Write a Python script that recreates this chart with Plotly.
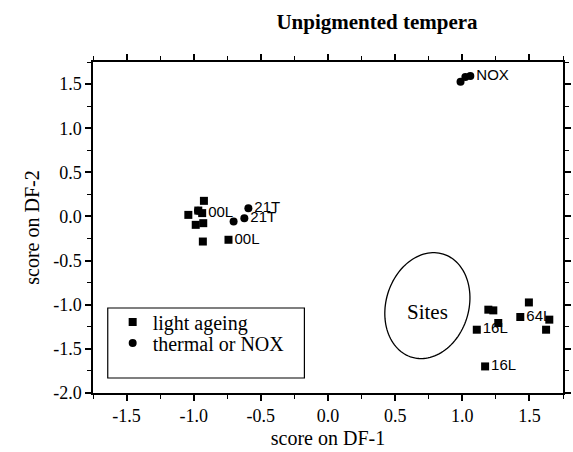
import numpy as np
import plotly.graph_objects as go

# Discriminant-function scores: light-aged samples (squares)
light_df1 = [-0.924, -1.040, -0.966, -0.937, -0.985, -0.929, -0.932, -0.741,
             1.194, 1.231, 1.268, 1.108, 1.170, 1.496, 1.432, 1.648, 1.624]
light_df2 = [0.177, 0.018, 0.067, 0.038, -0.095, -0.076, -0.284, -0.264,
             -1.056, -1.064, -1.207, -1.283, -1.699, -0.974, -1.139, -1.169, -1.283]
light_tags = ["", "", "", "00L", "", "", "", "00L",
              "", "", "", "16L", "16L", "", "64L", "", ""]

# Thermal / NOX aged samples (circles)
thermal_df1 = [-0.968, -0.703, -0.623, -0.593, 0.987, 1.023, 1.060]
thermal_df2 = [0.064, -0.057, -0.019, 0.094, 1.526, 1.579, 1.591]
thermal_tags = ["", "", "21T", "21T", "", "", "NOX"]

# Axis ticks
x_ticks = [-1.5, -1.0, -0.5, 0.0, 0.5, 1.0, 1.5]
x_ticktext = ["-1.5", "-1.0", "-0.5", "0.0", "0.5", "1.0", "1.5"]
y_ticks = [-2.0, -1.5, -1.0, -0.5, 0.0, 0.5, 1.0, 1.5]
y_ticktext = ["-2.0", "-1.5", "-1.0", "-0.5", "0.0", "0.5", "1.0", "1.5"]

X_RANGE = [-1.75, 1.75]
Y_RANGE = [-2.0, 1.75]
W, H = 573, 452
MARGIN = dict(l=93, r=2, t=62, b=59)

SERIF = "Liberation Serif, Times New Roman, serif"
SANS = "Liberation Sans, Arial, sans-serif"

# pixels per data unit, used to draw the tilted "Sites" ellipse
px_x = (W - MARGIN["l"] - MARGIN["r"]) / (X_RANGE[1] - X_RANGE[0])
px_y = (H - MARGIN["t"] - MARGIN["b"]) / (Y_RANGE[1] - Y_RANGE[0])

SITES_CENTER = (0.74, -1.01)
SITES_SEMI_MAJOR = 54.0   # px, roughly vertical
SITES_SEMI_MINOR = 42.0   # px
SITES_TILT = np.deg2rad(18)

t = np.linspace(0, 2 * np.pi, 120)
dx = SITES_SEMI_MINOR * np.cos(t)
dy = SITES_SEMI_MAJOR * np.sin(t)
ex = SITES_CENTER[0] + (dx * np.cos(SITES_TILT) + dy * np.sin(SITES_TILT)) / px_x
ey = SITES_CENTER[1] + (-dx * np.sin(SITES_TILT) + dy * np.cos(SITES_TILT)) / px_y
ellipse_path = "M " + " L ".join(f"{a:.4f},{b:.4f}" for a, b in zip(ex, ey)) + " Z"

fig = go.Figure()
fig.add_trace(go.Scatter(
    x=light_df1, y=light_df2, mode="markers+text", name="light ageing",
    text=light_tags, textposition="middle right",
    textfont=dict(family=SANS, size=15, color="black"),
    marker=dict(symbol="square", size=8, color="black"),
    legend="legend",
))
fig.add_trace(go.Scatter(
    x=thermal_df1, y=thermal_df2, mode="markers+text", name="thermal or NOX",
    text=thermal_tags, textposition="middle right",
    textfont=dict(family=SANS, size=15, color="black"),
    marker=dict(symbol="circle", size=8, color="black"),
    legend="legend2",
))

plot_w = W - MARGIN["l"] - MARGIN["r"]
plot_h = H - MARGIN["t"] - MARGIN["b"]


def paper_x(px):
    return (px - MARGIN["l"]) / plot_w


def paper_y(py):
    return (H - MARGIN["b"] - py) / plot_h


axis_common = dict(
    showline=True, linecolor="black", linewidth=1.5, mirror="ticks",
    ticks="outside", ticklen=6, tickwidth=1.5, tickcolor="black",
    showgrid=False, zeroline=False,
    tickfont=dict(family=SERIF, size=18, color="black"),
    minor=dict(ticks="outside", ticklen=4, tickwidth=1.2, tickcolor="black", dtick=0.25, tick0=0),
)

fig.update_layout(
    width=W, height=H, margin=MARGIN,
    paper_bgcolor="white", plot_bgcolor="white",
    title=dict(text="<b>Unpigmented tempera</b>", x=377 / W, xref="container", xanchor="center",
               y=1 - 22 / H, yref="container", yanchor="middle",
               font=dict(family=SERIF, size=21, color="black")),
    xaxis=dict(range=X_RANGE, tickvals=x_ticks, ticktext=x_ticktext,
               title=dict(text="score on DF-1", standoff=6,
                          font=dict(family=SERIF, size=20, color="black")),
               **axis_common),
    yaxis=dict(range=Y_RANGE, tickvals=y_ticks, ticktext=y_ticktext,
               title=dict(text="score on DF-2", standoff=8,
                          font=dict(family=SERIF, size=20, color="black")),
               **axis_common),
    legend=dict(x=paper_x(113), y=paper_y(322), xanchor="left", yanchor="middle",
                bgcolor="rgba(0,0,0,0)", borderwidth=0,
                font=dict(family=SERIF, size=20, color="black")),
    legend2=dict(x=paper_x(113), y=paper_y(343), xanchor="left", yanchor="middle",
                 bgcolor="rgba(0,0,0,0)", borderwidth=0,
                 font=dict(family=SERIF, size=20, color="black")),
    shapes=[
        dict(type="rect", xref="paper", yref="paper",
             x0=paper_x(108), x1=paper_x(308), y0=paper_y(378), y1=paper_y(308),
             line=dict(color="black", width=1.2), fillcolor="rgba(0,0,0,0)"),
        dict(type="path", xref="x", yref="y", path=ellipse_path,
             line=dict(color="black", width=1.3)),
    ],
    annotations=[
        dict(x=SITES_CENTER[0], y=-1.08, xref="x", yref="y", text="Sites", showarrow=False,
             font=dict(family=SERIF, size=21, color="black")),
    ],
    showlegend=True,
)

fig.write_html("out.html")
